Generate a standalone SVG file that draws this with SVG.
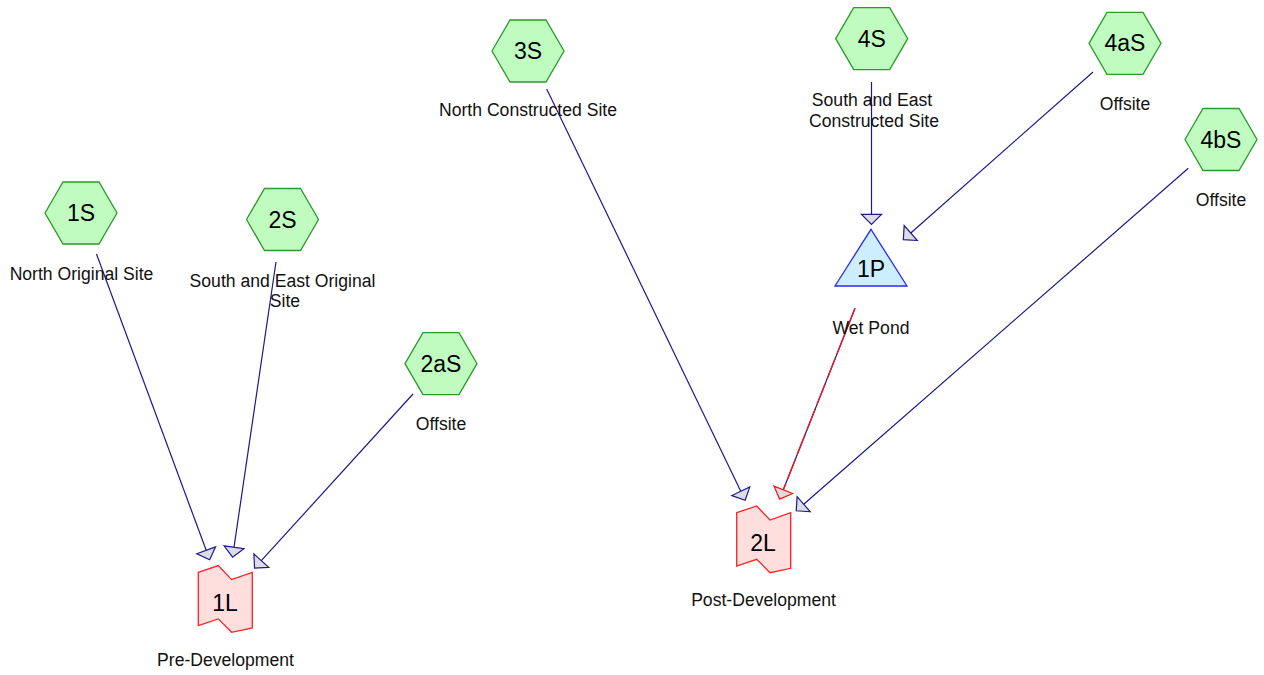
<svg xmlns="http://www.w3.org/2000/svg" width="1264" height="675" viewBox="0 0 1264 675">
<style>
.hex{fill:#c0fcc0;stroke:#2a9a2a;stroke-width:1.3}
.pond{fill:#cdeeff;stroke:#2a2aff;stroke-width:1.3}
.link{fill:#ffdede;stroke:#ff2020;stroke-width:1.3}
.id{font-family:"Liberation Sans",Arial,sans-serif;font-size:23px;fill:#000;text-anchor:middle}
.lb{font-family:"Liberation Sans",Arial,sans-serif;font-size:17.6px;fill:#111;text-anchor:middle}
.c{stroke:#1a1a8c;stroke-width:1.2;fill:none;marker-end:url(#a)}
</style>
<defs>
<polygon id="hx" points="-36,0 -18,-31 18,-31 36,0 18,31 -18,31"/>
<polygon id="lk" points="0,6.7 20,0 33.3,14 54,6.7 54,62.3 33.3,66.7 20,53.3 0,60"/>
<marker id="a" markerWidth="13" markerHeight="24" refX="1" refY="12" orient="auto" markerUnits="userSpaceOnUse"><path d="M1,2 L11,12 L1,22 z" fill="#dcdce2" stroke="#1a1a8c" stroke-width="1.2"/></marker>
<marker id="r" markerWidth="13" markerHeight="24" refX="1" refY="12" orient="auto" markerUnits="userSpaceOnUse"><path d="M1,2 L11,12 L1,22 z" fill="#dcdce2" stroke="#ff1010" stroke-width="1.2"/></marker>
</defs>
<g id="connectors">
<line class="c" x1="96.5" y1="254" x2="206.2" y2="550.3"/>
<line class="c" x1="276" y1="262" x2="234" y2="547.3"/>
<line class="c" x1="413" y1="394" x2="261.3" y2="560.7"/>
<line class="c" x1="546.7" y1="89" x2="740.8" y2="491.2"/>
<line class="c" x1="871.5" y1="82" x2="871.5" y2="214.3"/>
<line class="c" x1="1093" y1="72" x2="910.8" y2="233"/>
<line class="c" x1="1188.3" y1="168.3" x2="803.7" y2="504.2"/>
<line x1="855" y1="308.3" x2="783.3" y2="489.8" stroke="#1a1a8c" stroke-width="1.2" marker-end="url(#r)"/>
<line x1="855" y1="308.3" x2="783.3" y2="489.8" stroke="#ff1010" stroke-width="1.3" stroke-dasharray="22,5"/>
</g>
<g id="n1S"><use href="#hx" class="hex" x="81" y="213"/><text class="id" x="81" y="221">1S</text><text class="lb" x="81.5" y="279.5">North Original Site</text></g>
<g id="n2S"><use href="#hx" class="hex" x="282.5" y="219.5"/><text class="id" x="282.5" y="227.5">2S</text><text class="lb" x="282.5" y="286.5">South and East Original</text><text class="lb" x="285" y="306.5">Site</text></g>
<g id="n2aS"><use href="#hx" class="hex" x="441" y="363.7"/><text class="id" x="441" y="371.7">2aS</text><text class="lb" x="441" y="430">Offsite</text></g>
<g id="n3S"><use href="#hx" class="hex" x="528" y="51"/><text class="id" x="528" y="59">3S</text><text class="lb" x="528" y="116">North Constructed Site</text></g>
<g id="n4S"><use href="#hx" class="hex" x="871.7" y="38.7"/><text class="id" x="871.7" y="46.7">4S</text><text class="lb" x="872" y="106">South and East</text><text class="lb" x="874" y="127">Constructed Site</text></g>
<g id="n4aS"><use href="#hx" class="hex" x="1125" y="43.3"/><text class="id" x="1125" y="51.3">4aS</text><text class="lb" x="1125" y="110">Offsite</text></g>
<g id="n4bS"><use href="#hx" class="hex" x="1221" y="139.5"/><text class="id" x="1221" y="147.5">4bS</text><text class="lb" x="1221" y="206">Offsite</text></g>
<g id="n1P"><polygon class="pond" points="871,229.3 907,286 835,286"/><text class="id" x="871" y="277">1P</text><text class="lb" x="871" y="334">Wet Pond</text></g>
<g id="n1L"><use href="#lk" class="link" x="198.3" y="565.6"/><text class="id" x="225" y="611">1L</text><text class="lb" x="225.5" y="666">Pre-Development</text></g>
<g id="n2L"><use href="#lk" class="link" x="736.7" y="506"/><text class="id" x="763" y="551">2L</text><text class="lb" x="763.5" y="606">Post-Development</text></g>
</svg>
